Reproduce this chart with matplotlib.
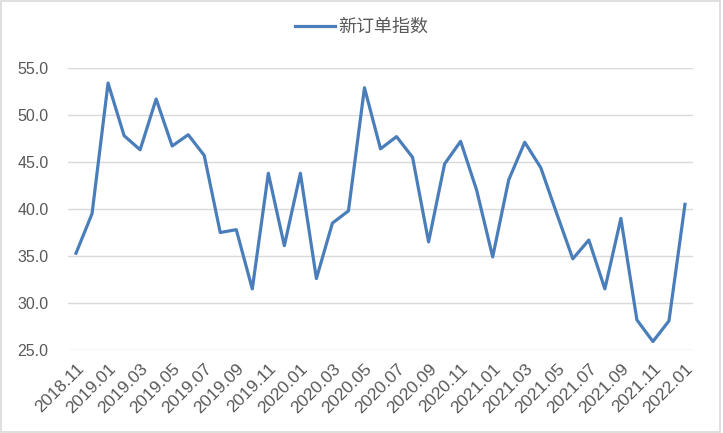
import matplotlib
matplotlib.use("Agg")
import matplotlib.pyplot as plt
from matplotlib.patches import Rectangle

plt.rcParams['font.family'] = ['Noto Sans CJK SC', 'DejaVu Sans']

# monthly data 2018.11 - 2022.01
months = []
y, m = 2018, 11
for _ in range(39):
    months.append(f"{y}.{m:02d}")
    m += 1
    if m > 12:
        m = 1
        y += 1

values = [35.3, 39.5, 53.4, 47.8, 46.3, 51.7, 46.7, 47.9, 45.7, 37.5,
          37.8, 31.5, 43.8, 36.1, 43.8, 32.6, 38.5, 39.8, 52.9, 46.4,
          47.7, 45.5, 36.5, 44.8, 47.2, 42.0, 34.9, 43.1, 47.1, 44.4,
          39.5, 34.7, 36.7, 31.5, 39.0, 28.2, 25.9, 28.1, 40.5]
series_name = "新订单指数"
yticks = [25, 30, 35, 40, 45, 50, 55]

fig = plt.figure(figsize=(7.23, 4.33), dpi=100)
ax = fig.add_axes([68/723, 1-350/433, (693-68)/723, (350-68)/433])

idx = list(range(len(values)))
ax.plot(idx, values, color="#4a7ebb", lw=2.3, label=series_name)

ax.set_ylim(25, 55)
ax.set_yticks(yticks)
ax.set_yticklabels([f"{v:.1f}" for v in yticks],
                   family="Liberation Sans", fontsize=11.5, color="#595959")
ax.set_xlim(-0.5, len(values) - 0.5)
ax.set_xticks(idx[::2])
ax.set_xticklabels(months[::2], rotation=45, ha="right", rotation_mode="anchor",
                   family="Liberation Sans", fontsize=12.5, color="#595959")
ax.tick_params(axis="y", length=0, pad=14)
ax.tick_params(axis="x", length=0, pad=8)
ax.grid(axis="y", color="#d9d9d9", lw=1)
ax.set_axisbelow(True)
for s in ax.spines.values():
    s.set_visible(False)

fig.legend(loc="center", bbox_to_anchor=(0.5, 1-27/433), frameon=False,
           fontsize=13, handlelength=2.2, handletextpad=0.2,
           labelcolor="#595959")

fig.patches.append(Rectangle((0.002, 0.003), 0.994, 0.994, transform=fig.transFigure,
                             fill=False, edgecolor="#d9d9d9", lw=1.2))

fig.savefig("out.png", dpi=100)
